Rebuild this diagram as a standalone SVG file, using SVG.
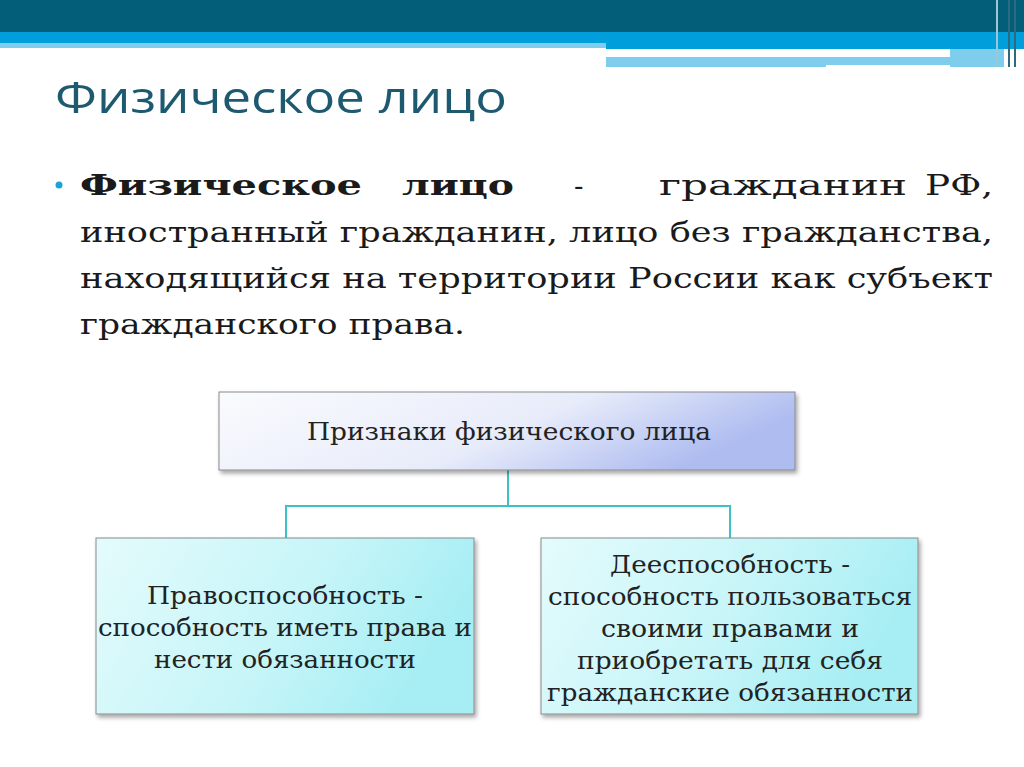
<svg xmlns="http://www.w3.org/2000/svg" width="1024" height="767" viewBox="0 0 1024 767">
<defs>
<style>
.t{font-family:"DejaVu Serif",serif;fill:#1a1a1a}
.b{font-family:"DejaVu Serif",serif;fill:#222;font-size:24px;text-anchor:middle}
.box{stroke:#8a8a8a;stroke-width:1}
</style>
<linearGradient id="g1" x1="0" y1="0" x2="1" y2="0.3"><stop offset="0" stop-color="#fafbfe"/><stop offset="0.6" stop-color="#e8ecfa"/><stop offset="1" stop-color="#aebcf0"/></linearGradient>
<linearGradient id="g2" x1="0" y1="0" x2="1" y2="0.3"><stop offset="0" stop-color="#e4fbfc"/><stop offset="0.6" stop-color="#c6f5f8"/><stop offset="1" stop-color="#a6eef4"/></linearGradient>
<filter id="sh" x="-5%" y="-5%" width="110%" height="120%"><feDropShadow dx="2" dy="3" stdDeviation="2" flood-color="#000" flood-opacity="0.35"/></filter>
</defs>
<rect width="1024" height="767" fill="#fff"/>
<rect x="0" y="0" width="1024" height="32" fill="#035f79"/>
<rect x="0" y="32" width="1024" height="11" fill="#009edb"/>
<rect x="0" y="43" width="606" height="5" fill="#7fcdec"/>
<rect x="606" y="43" width="418" height="6" fill="#009edb"/>
<rect x="606" y="57" width="220" height="10" fill="#7fcdec"/>
<rect x="826" y="57" width="178" height="8" fill="#7fcdec"/>
<rect x="950" y="49" width="54" height="18" fill="#7fcdec"/>
<rect x="996" y="0" width="2" height="67" fill="#9cc7d6"/>
<rect x="1008" y="0" width="2" height="67" fill="#2d6a80"/>
<rect x="1014" y="0" width="2" height="67" fill="#2d6a80"/>
<text x="55" y="113" font-family="'Open Sans','Liberation Sans',sans-serif" font-size="44" fill="#1d5a70" textLength="452" lengthAdjust="spacingAndGlyphs">Физическое лицо</text>
<circle cx="59" cy="185" r="3.5" fill="#1aa3d6"/>
<g class="t" font-size="28">
<text x="80" y="195" font-weight="bold" textLength="282" lengthAdjust="spacingAndGlyphs">Физическое</text>
<text x="402" y="195" font-weight="bold" textLength="112" lengthAdjust="spacingAndGlyphs">лицо</text>
<text x="574" y="195">-</text>
<text x="659" y="195" textLength="248" lengthAdjust="spacingAndGlyphs">гражданин</text>
<text x="925" y="195" textLength="68" lengthAdjust="spacingAndGlyphs">РФ,</text>
<text x="80" y="242" textLength="913" lengthAdjust="spacingAndGlyphs">иностранный гражданин, лицо без гражданства,</text>
<text x="80" y="288" textLength="913" lengthAdjust="spacingAndGlyphs">находящийся на территории России как субъект</text>
<text x="80" y="334" textLength="385" lengthAdjust="spacingAndGlyphs">гражданского права.</text>
</g>
<g id="connectors" fill="none" stroke="#3cc2c4" stroke-width="2">
<path d="M508 470V506M286 538V506H730V538"/>
</g>
<g id="n1"><rect class="box" x="219" y="392" width="576" height="78" fill="url(#g1)" filter="url(#sh)"/>
<text class="b" x="509" y="440" textLength="404" lengthAdjust="spacingAndGlyphs">Признаки физического лица</text></g>
<g id="n2"><rect class="box" x="96" y="538" width="378" height="176" fill="url(#g2)" filter="url(#sh)"/>
<text class="b" x="285" y="604" textLength="276" lengthAdjust="spacingAndGlyphs">Правоспособность -</text>
<text class="b" x="285" y="636" textLength="374" lengthAdjust="spacingAndGlyphs">способность иметь права и</text>
<text class="b" x="285" y="668" textLength="262" lengthAdjust="spacingAndGlyphs">нести обязанности</text></g>
<g id="n3"><rect class="box" x="541" y="538" width="377" height="176" fill="url(#g2)" filter="url(#sh)"/>
<text class="b" x="730" y="573" textLength="240" lengthAdjust="spacingAndGlyphs">Дееспособность -</text>
<text class="b" x="730" y="605" textLength="364" lengthAdjust="spacingAndGlyphs">способность пользоваться</text>
<text class="b" x="730" y="637" textLength="258" lengthAdjust="spacingAndGlyphs">своими правами и</text>
<text class="b" x="730" y="669" textLength="306" lengthAdjust="spacingAndGlyphs">приобретать для себя</text>
<text class="b" x="730" y="701" textLength="366" lengthAdjust="spacingAndGlyphs">гражданские обязанности</text></g>
</svg>
